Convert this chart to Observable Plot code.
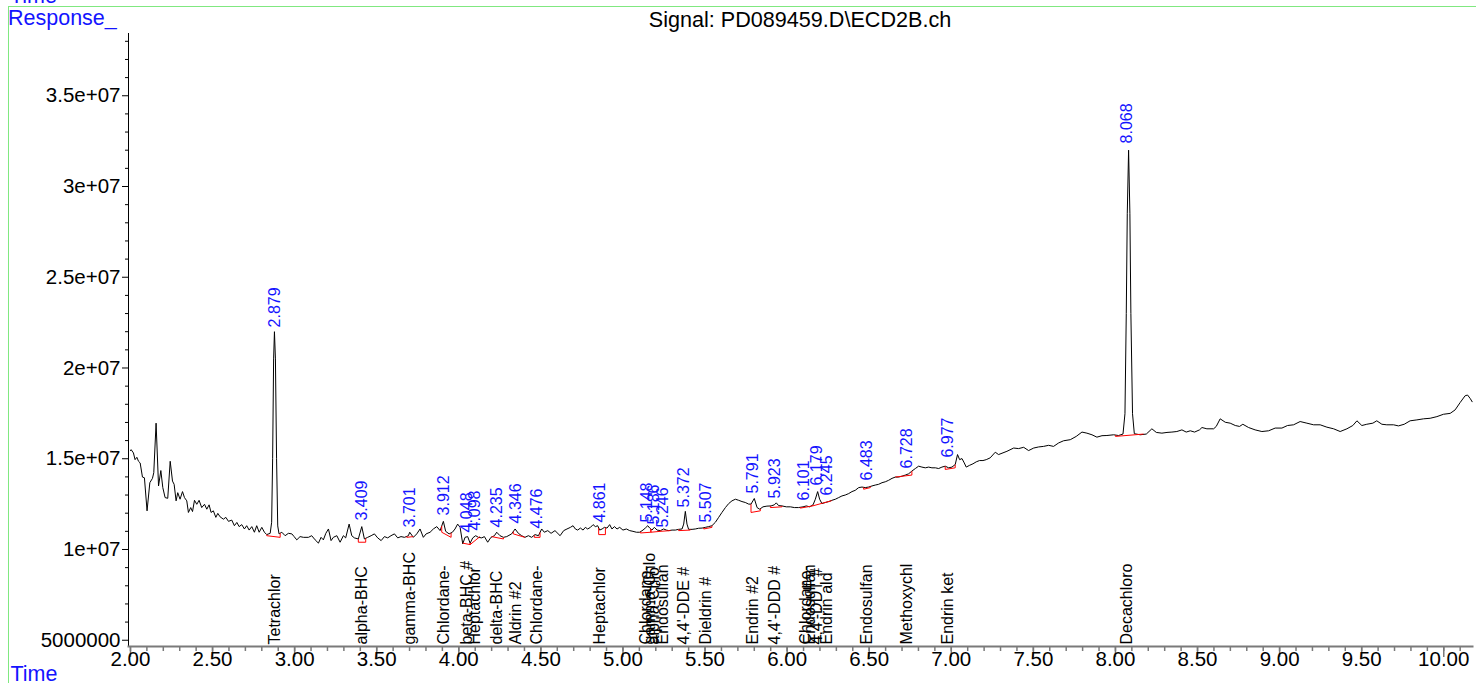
<!DOCTYPE html>
<html><head><meta charset="utf-8">
<script src="https://cdn.jsdelivr.net/npm/d3@7"></script>
<script src="https://cdn.jsdelivr.net/npm/@observablehq/plot@0.6"></script>
<style>
html,body{margin:0;padding:0;background:#fff;overflow:hidden;}
body{width:1476px;height:683px;position:relative;font-family:"Liberation Sans",Arial,sans-serif;}
#header{position:relative;height:33px;}
.blue{color:#1414ff;}
#topTime{position:absolute;left:10px;top:-14px;font-size:21.5px;line-height:21px;}
#resp{position:absolute;left:8px;top:8px;font-size:21.5px;line-height:21px;}
#title{position:absolute;left:800px;top:9px;transform:translateX(-50%);font-size:21.6px;line-height:21px;white-space:nowrap;color:#000;}
#chart svg{display:block;}
#frameLines{position:absolute;left:8px;top:6px;right:0;bottom:-2px;border-top:1px solid #80e880;border-left:1px solid #80e880;pointer-events:none;}
</style></head>
<body>
<div id="header"><div id="topTime" class="blue">Time</div><div id="resp" class="blue">Response_</div><div id="title">Signal: PD089459.D\ECD2B.ch</div></div>
<div id="chart"></div>
<div id="frameLines"></div>
<script>
// chromatogram trace: [time (min), response (millions)]
const chromatogram = [
[2.000,15.45],[2.004,15.50],[2.018,15.32],[2.028,14.95],[2.039,15.08],[2.049,14.86],[2.059,14.77],[2.073,13.99],[2.085,13.95],[2.101,12.13],
[2.118,13.68],[2.134,13.92],[2.142,14.23],[2.156,16.96],[2.171,13.50],[2.185,14.35],[2.197,13.41],[2.211,12.86],[2.227,12.82],[2.242,14.86],
[2.256,13.77],[2.266,13.59],[2.278,12.68],[2.288,13.13],[2.302,12.77],[2.317,13.19],[2.329,12.86],[2.343,12.68],[2.353,12.04],[2.367,12.31],
[2.378,12.09],[2.390,12.71],[2.404,12.49],[2.418,12.71],[2.434,12.31],[2.451,12.49],[2.465,12.22],[2.479,12.46],[2.491,12.04],[2.505,12.13],
[2.520,11.77],[2.532,11.99],[2.546,11.80],[2.566,11.67],[2.581,11.77],[2.597,11.55],[2.617,11.62],[2.633,11.31],[2.648,11.49],[2.662,11.26],
[2.678,11.37],[2.694,11.13],[2.708,11.31],[2.723,11.07],[2.739,11.26],[2.755,10.95],[2.769,11.31],[2.784,10.95],[2.800,11.22],[2.816,10.95],
[2.830,10.82],[2.851,10.89],[2.860,11.50],[2.866,15.00],[2.872,20.50],[2.877,22.00],[2.883,20.50],[2.890,15.00],[2.897,11.30],[2.905,10.86],
[2.922,10.95],[2.942,10.76],[2.962,10.89],[2.983,10.86],[2.997,10.71],[3.013,10.53],[3.033,10.71],[3.054,10.67],[3.084,10.67],[3.104,10.76],
[3.125,10.53],[3.145,10.35],[3.161,10.67],[3.175,10.53],[3.190,10.89],[3.206,11.13],[3.222,10.49],[3.236,10.67],[3.257,10.76],[3.277,10.40],
[3.297,10.76],[3.311,10.64],[3.332,11.40],[3.348,10.76],[3.364,10.64],[3.388,10.58],[3.409,11.26],[3.425,10.58],[3.445,10.67],[3.466,10.76],
[3.486,10.86],[3.506,10.64],[3.527,10.49],[3.547,10.71],[3.567,10.64],[3.587,10.76],[3.608,10.86],[3.628,10.64],[3.648,10.71],[3.669,10.67],
[3.693,10.76],[3.701,10.95],[3.723,10.67],[3.744,10.86],[3.764,11.13],[3.784,10.67],[3.801,10.86],[3.825,10.95],[3.845,11.13],[3.866,11.26],
[3.886,11.04],[3.906,11.55],[3.920,11.00],[3.941,10.86],[3.961,10.95],[3.977,11.13],[3.993,11.40],[4.008,11.22],[4.024,10.31],[4.038,10.67],
[4.054,10.71],[4.069,10.35],[4.085,10.64],[4.103,10.76],[4.119,10.67],[4.140,10.64],[4.156,10.71],[4.176,10.40],[4.196,10.67],[4.217,10.76],
[4.231,10.95],[4.251,10.76],[4.272,10.67],[4.292,10.71],[4.322,10.86],[4.343,11.13],[4.363,10.89],[4.383,10.76],[4.403,10.67],[4.424,10.76],
[4.444,10.67],[4.464,10.82],[4.485,10.76],[4.505,11.13],[4.521,10.95],[4.542,11.04],[4.562,10.89],[4.586,11.04],[4.617,10.76],[4.639,11.04],
[4.659,11.13],[4.680,11.22],[4.696,11.31],[4.710,11.13],[4.724,11.07],[4.741,11.18],[4.757,11.07],[4.771,11.22],[4.785,11.13],[4.802,11.22],
[4.818,11.37],[4.832,11.26],[4.846,11.31],[4.858,11.07],[4.873,11.13],[4.887,11.22],[4.903,11.18],[4.919,11.37],[4.933,11.13],[4.948,11.26],
[4.964,11.13],[4.980,11.22],[5.000,11.07],[5.021,11.13],[5.041,11.04],[5.061,11.00],[5.082,10.95],[5.102,10.95],[5.122,11.07],[5.136,11.18],
[5.151,11.31],[5.163,11.18],[5.177,11.07],[5.191,11.22],[5.208,11.07],[5.228,11.04],[5.248,11.13],[5.264,11.07],[5.279,11.04],[5.299,11.07],
[5.319,11.07],[5.339,11.11],[5.360,11.13],[5.370,11.40],[5.380,12.10],[5.390,11.40],[5.400,11.11],[5.421,11.11],[5.441,11.13],[5.461,11.17],
[5.482,11.18],[5.502,11.22],[5.522,11.26],[5.542,11.31],[5.563,11.50],[5.583,11.77],[5.603,12.04],[5.624,12.31],[5.644,12.53],[5.664,12.68],
[5.685,12.77],[5.705,12.71],[5.725,12.64],[5.745,12.59],[5.766,12.50],[5.780,12.50],[5.800,12.81],[5.817,12.31],[5.833,12.22],[5.853,12.35],
[5.877,12.39],[5.902,12.40],[5.922,12.46],[5.934,12.57],[5.948,12.42],[5.969,12.40],[5.995,12.35],[6.020,12.35],[6.044,12.31],[6.070,12.31],
[6.097,12.35],[6.117,12.40],[6.137,12.35],[6.158,12.46],[6.172,12.77],[6.186,13.19],[6.198,12.77],[6.212,12.53],[6.233,12.59],[6.253,12.64],
[6.273,12.71],[6.294,12.77],[6.314,12.86],[6.334,12.95],[6.354,13.00],[6.375,13.08],[6.395,13.19],[6.415,13.26],[6.436,13.41],[6.456,13.44],
[6.476,13.41],[6.496,13.44],[6.517,13.50],[6.537,13.55],[6.557,13.59],[6.578,13.68],[6.598,13.73],[6.618,13.81],[6.639,13.92],[6.659,13.99],
[6.679,13.99],[6.700,14.04],[6.720,14.10],[6.740,14.17],[6.760,14.32],[6.781,14.46],[6.801,14.59],[6.821,14.54],[6.842,14.50],[6.862,14.54],
[6.882,14.50],[6.903,14.50],[6.923,14.46],[6.943,14.54],[6.963,14.59],[6.984,14.50],[7.004,14.54],[7.024,14.68],[7.038,15.23],[7.051,14.95],
[7.065,15.01],[7.079,14.77],[7.091,14.54],[7.112,14.64],[7.132,14.72],[7.152,14.83],[7.172,14.90],[7.193,14.90],[7.213,14.95],[7.237,15.05],
[7.268,15.36],[7.288,15.23],[7.339,15.41],[7.380,15.59],[7.410,15.56],[7.441,15.63],[7.471,15.45],[7.502,15.59],[7.532,15.65],[7.562,15.68],
[7.593,15.74],[7.623,15.68],[7.654,15.87],[7.684,15.99],[7.725,16.05],[7.761,16.23],[7.796,16.47],[7.826,16.41],[7.857,16.32],[7.887,16.19],
[7.918,16.27],[7.948,16.28],[7.989,16.32],[8.019,16.28],[8.046,16.36],[8.058,17.48],[8.066,23.00],[8.072,28.50],[8.080,32.00],[8.088,28.50],
[8.094,23.00],[8.104,17.48],[8.115,16.38],[8.151,16.32],[8.188,16.36],[8.222,16.65],[8.249,16.45],[8.283,16.41],[8.314,16.45],[8.344,16.47],
[8.374,16.50],[8.405,16.59],[8.431,16.47],[8.456,16.54],[8.482,16.47],[8.512,16.59],[8.527,16.72],[8.557,16.65],[8.598,16.65],[8.614,16.78],
[8.638,17.20],[8.669,17.01],[8.699,16.96],[8.730,16.83],[8.756,16.78],[8.776,16.90],[8.811,16.72],[8.851,16.59],[8.892,16.50],[8.933,16.54],
[8.973,16.69],[9.014,16.69],[9.048,16.83],[9.085,16.87],[9.125,17.05],[9.166,16.96],[9.207,16.87],[9.247,16.87],[9.288,16.74],[9.329,16.65],
[9.369,16.50],[9.410,16.65],[9.446,16.83],[9.471,17.09],[9.501,16.83],[9.531,16.90],[9.568,16.96],[9.592,17.09],[9.623,16.90],[9.653,16.87],
[9.694,16.87],[9.724,16.81],[9.759,16.90],[9.795,17.09],[9.836,17.14],[9.877,17.20],[9.917,17.23],[9.958,17.32],[9.998,17.45],[10.039,17.50],
[10.069,17.69],[10.100,18.10],[10.130,18.47],[10.145,18.51],[10.161,18.32],[10.173,18.14]
];

// integrated peaks: retention time and apex response (millions)
const peakRT   = [2.879,3.409,3.701,3.912,4.048,4.098,4.235,4.346,4.476,4.861,5.148,5.186,5.246,5.372,5.507,5.791,5.923,6.101,6.179,6.245,6.483,6.728,6.977,8.068];
const peakApex = [21.96,11.32,10.94,11.60,10.66,10.77,10.94,11.16,10.88,11.21,11.21,11.10,10.94,12.04,11.21,12.81,12.54,12.43,13.25,12.70,13.53,14.19,14.79,32.10];

// compound names along the bottom
const compoundRT   = [2.879,3.409,3.701,3.912,4.048,4.098,4.235,4.346,4.476,4.861,5.140,5.165,5.186,5.246,5.372,5.507,5.791,5.923,6.115,6.140,6.179,6.245,6.483,6.728,6.977,8.068];
const compoundName = ["Tetrachlor","alpha-BHC","gamma-BHC","Chlordane-","beta-BHC #","Heptachlor","delta-BHC","Aldrin #2","Chlordane-","Heptachlor","Chlordane-","gamma-Chlo","alpha-Chlo","Endosulfan","4,4'-DDE #","Dieldrin #","Endrin #2","4,4'-DDD #","Chlordane-","Endosulfan","4,4'-DDT #","Endrin ald","Endosulfan","Methoxychl","Endrin ket","Decachloro"];

// integration baselines (time, response millions)
const baseStart     = [2.830,3.388,3.683,3.896,4.024,4.069,4.200,4.332,4.460,4.852,5.106,5.170,5.228,5.339,5.492,5.780,5.898,6.080,6.155,6.215,6.466,6.659,6.963,8.000];
const baseStartResp = [10.76,10.40,10.67,10.95,10.35,10.27,10.71,10.86,10.67,10.82,10.91,10.95,11.00,11.04,11.13,12.04,12.31,12.28,12.40,12.55,13.32,13.99,14.41,16.23];
const baseEnd       = [2.912,3.433,3.723,3.953,4.069,4.129,4.272,4.403,4.495,4.893,5.170,5.228,5.289,5.410,5.542,5.837,5.969,6.155,6.215,6.270,6.507,6.760,7.024,8.171];
const baseEndResp   = [10.67,10.40,10.71,10.67,10.27,10.71,10.58,10.67,10.67,10.82,10.95,11.00,11.04,11.07,11.22,12.13,12.35,12.40,12.55,12.68,13.41,14.10,14.50,16.36];

// axis ticks
const xTicks = [2.0,2.5,3.0,3.5,4.0,4.5,5.0,5.5,6.0,6.5,7.0,7.5,8.0,8.5,9.0,9.5,10.0];
const xMinorTicks = d3.range(20, 102).map(i => i / 10);
const yTicks = [5e6, 1e7, 1.5e7, 2e7, 2.5e7, 3e7, 3.5e7];
const yMinorTicks = d3.range(5, 39).map(i => i * 1e6).filter(v => !yTicks.includes(v));

const M = 1e6;
const trace = chromatogram.map(([t, v]) => ({t, v: v * M}));
const peaks = peakRT.map((rt, i) => ({rt, h: peakApex[i] * M}));
const compounds = compoundRT.map((rt, i) => ({rt, name: compoundName[i]}));
const baselines = baseStart.map((t1, i) => ({t1, v1: baseStartResp[i] * M, t2: baseEnd[i], v2: baseEndResp[i] * M}));

const bis = d3.bisector(d => d.t).left;
function traceAt(t) {
  const i = bis(trace, t);
  if (i <= 0) return trace[0].v;
  if (i >= trace.length) return trace[trace.length - 1].v;
  const a = trace[i - 1], b = trace[i];
  return a.v + (b.v - a.v) * (t - a.t) / (b.t - a.t);
}
const drops = [];
baselines.forEach(b => {
  [[b.t1, b.v1], [b.t2, b.v2]].forEach(([t, v]) => {
    const s = traceAt(t);
    if (s > v) drops.push({t, b: v, s});
  });
});

const fmtY = d => d < 1e7 ? String(d) : d.toExponential().replace(/e\+(\d)$/, "e+0$1");
const blue = "#1414ff";
const gray = "#7a7a7a";

const chart = Plot.plot({
  width: 1476, height: 650,
  marginLeft: 128, marginRight: 4, marginTop: 0, marginBottom: 37,
  x: {domain: [1.988, 10.175], label: null, axis: null},
  y: {domain: [4.655e6, 38.43e6], label: null, axis: null},
  style: {fontFamily: '"Liberation Sans", Arial, sans-serif', fontSize: "16px", color: "#000", background: "transparent", overflow: "visible"},
  marks: [
    Plot.axisY(yMinorTicks, {tickSize: 3, tickFormat: () => "", label: null}),
    Plot.axisY(yTicks, {tickSize: 6, tickPadding: 2, tickFormat: fmtY, fontSize: 20.5, label: null}),
    Plot.frame({anchor: "left", stroke: "#000"}),
    Plot.axisX(xMinorTicks, {tickSize: 5, tickFormat: () => "", stroke: gray, strokeWidth: 1.5, label: null}),
    Plot.axisX(xTicks, {tickSize: 11, tickFormat: () => "", stroke: gray, strokeWidth: 1.5, label: null}),
    Plot.axisX(xTicks, {tickSize: 0, tickPadding: 5, tickFormat: d => d.toFixed(2), fontSize: 20.5, label: null}),
    Plot.frame({anchor: "bottom", stroke: gray, strokeWidth: 2}),
    Plot.line(trace, {x: "t", y: "v", stroke: "#000", strokeWidth: 1}),
    Plot.link(baselines, {x1: "t1", y1: "v1", x2: "t2", y2: "v2", stroke: "#ff0000", strokeWidth: 1}),
    Plot.link(drops, {x1: "t", x2: "t", y1: "b", y2: "s", stroke: "#ff0000", strokeWidth: 1}),
    Plot.text(peaks, {x: "rt", y: "h", text: d => d.rt.toFixed(3), rotate: -90, textAnchor: "start", lineAnchor: "middle", dy: -5, fill: blue, fontSize: 16}),
    Plot.text(compounds, {x: "rt", frameAnchor: "bottom", text: "name", rotate: -90, textAnchor: "start", lineAnchor: "middle", dy: -2, fill: "#000", fontSize: 16}),
    Plot.text(["Time"], {frameAnchor: "bottom-left", text: d => d, dx: -118, dy: 34, textAnchor: "start", lineAnchor: "bottom", fill: blue, fontSize: 21.5})
  ]
});
document.getElementById("chart").appendChild(chart);
</script>
</body></html>
